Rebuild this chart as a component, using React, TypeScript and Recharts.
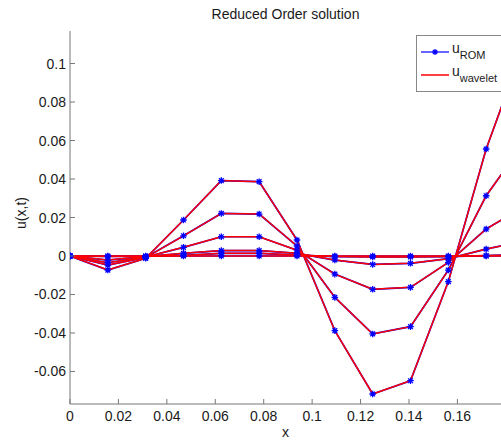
import React from 'react';
import { LineChart, Line, XAxis, YAxis, Legend } from 'recharts';

// grid points (dx = 1/64); the last one sits just past the visible range
const xGrid = [0, 0.015625, 0.03125, 0.046875, 0.0625, 0.078125, 0.09375, 0.109375, 0.125, 0.140625, 0.15625, 0.171875, 0.1875];

// solution snapshots, largest amplitude first
const snap1 = [0, -0.0073, -0.0012, 0.0187, 0.0392, 0.0386, 0.0083, -0.0388, -0.0717, -0.0648, -0.0133, 0.0556, 0.1096];
const snap2 = [0, -0.0047, -0.0008, 0.0105, 0.0221, 0.0218, 0.0052, -0.0215, -0.0405, -0.0367, -0.0073, 0.0313, 0.0589];
const snap3 = [0, -0.0035, -0.0005, 0.0045, 0.01, 0.01, 0.003, -0.0094, -0.0173, -0.0163, -0.0033, 0.014, 0.0257];
const snap4 = [0, -0.0021, -0.0003, 0.0014, 0.0028, 0.0028, 0.0014, -0.0021, -0.0044, -0.0038, -0.0014, 0.0036, 0.0078];
const snap5 = [0, -0.0002, -0.0001, 0.0003, 0.0014, 0.0014, 0.0005, -0.0003, -0.0005, -0.0005, -0.0003, 0.0002, 0.0008];
const snap6 = [0, 0, 0, 0, 0, 0, 0, 0, 0, 0, 0, 0, 0];

const xTicks = [0, 0.02, 0.04, 0.06, 0.08, 0.1, 0.12, 0.14, 0.16];
const yTicks = [-0.06, -0.04, -0.02, 0, 0.02, 0.04, 0.06, 0.08, 0.1];

const snaps = [snap1, snap2, snap3, snap4, snap5, snap6];
const rows = xGrid.map((x, i) => {
  const r: Record<string, number> = { x };
  snaps.forEach((s, k) => (r['s' + k] = s[i]));
  return r;
});

const AXIS = '#777';
const TEXT = '#1a1a1a';
const FONT = '"Liberation Sans", Arial, sans-serif';
const BLUE = '#0000ff';
const RED = '#ff0000';

const fmt = (v: number) => String(Number(v.toFixed(3)));

function starPath(cx: number, cy: number, r: number) {
  const d = r * 0.72;
  return `M${cx - r},${cy}H${cx + r}M${cx},${cy - r}V${cy + r}M${cx - d},${cy - d}L${cx + d},${cy + d}M${cx - d},${cy + d}L${cx + d},${cy - d}`;
}

function StarDot(props: any) {
  const { cx, cy } = props;
  if (cx == null || cy == null) return null;
  return <path key={props.key} d={starPath(cx, cy, 3.3)} stroke={BLUE} strokeWidth={1.3} fill="none" />;
}

function XTick({ x, y, payload }: any) {
  return (
    <g>
      <line x1={x} x2={x} y1={y} y2={y - 5} stroke={AXIS} />
      <text x={x} y={y + 17} textAnchor="middle" fontSize={14} fill={TEXT} fontFamily={FONT}>
        {fmt(payload.value)}
      </text>
    </g>
  );
}

function YTick({ x, y, payload }: any) {
  return (
    <g>
      <line x1={x} x2={x + 5} y1={y} y2={y} stroke={AXIS} />
      <text x={x - 4} y={y + 5} textAnchor="end" fontSize={14} fill={TEXT} fontFamily={FONT}>
        {fmt(payload.value)}
      </text>
    </g>
  );
}

function LegendBox() {
  return (
    <svg width={92} height={57} style={{ display: 'block' }}>
      <rect x={0.5} y={0.5} width={91} height={56} fill="#fff" stroke="#888" />
      <line x1={5} x2={33} y1={17} y2={17} stroke={BLUE} strokeWidth={1.2} />
      <path d={starPath(19, 17, 3)} stroke={BLUE} strokeWidth={1.2} fill="none" />
      <text x={36} y={18} fontSize={14} fill={TEXT} fontFamily={FONT}>
        u<tspan fontSize={11} dy={6}>ROM</tspan>
      </text>
      <line x1={5} x2={33} y1={40} y2={40} stroke={RED} strokeWidth={1.5} />
      <text x={36} y={41} fontSize={14} fill={TEXT} fontFamily={FONT}>
        u<tspan fontSize={11} dy={6}>wavelet</tspan>
      </text>
    </svg>
  );
}

export default function App() {
  return (
    <div style={{ position: 'absolute', left: 0, top: 0, width: 501, height: 442, overflow: 'hidden', background: '#fff', fontFamily: FONT }}>
      <div style={{ position: 'absolute', left: 70, top: 6, width: 431, textAlign: 'center', fontSize: 14, lineHeight: '16px', color: TEXT }}>
        Reduced Order solution
      </div>
      <LineChart width={501} height={442} data={rows} margin={{ top: 31, right: 0, bottom: 8, left: 10 }}>
        <XAxis
          dataKey="x"
          type="number"
          domain={[0, 0.178]}
          allowDataOverflow
          ticks={xTicks}
          interval={0}
          height={30}
          tickSize={0}
          tickMargin={0}
          tickLine={false}
          axisLine={{ stroke: AXIS }}
          tick={<XTick />}
          label={{
            content: ({ viewBox }: any) => (
              <text x={viewBox.x + viewBox.width / 2} y={viewBox.y + 33} textAnchor="middle" fontSize={14} fill={TEXT} fontFamily={FONT}>
                x
              </text>
            ),
          }}
        />
        <YAxis
          type="number"
          domain={[-0.0769, 0.1169]}
          allowDataOverflow
          ticks={yTicks}
          interval={0}
          width={60}
          tickSize={0}
          tickMargin={0}
          tickLine={false}
          axisLine={{ stroke: AXIS }}
          tick={<YTick />}
          label={{
            content: () => (
              <text x={22} y={213} transform="rotate(-90 22 213)" textAnchor="middle" dominantBaseline="middle" fontSize={14} fill={TEXT} fontFamily={FONT}>
                u(x,t)
              </text>
            ),
          }}
        />
        <Legend
          layout="horizontal"
          verticalAlign="middle"
          align="center"
          wrapperStyle={{ left: 416, top: 35, width: 92, height: 57 }}
          content={() => <LegendBox />}
        />
        {snaps.map((_, k) => (
          <Line
            key={'rom' + k}
            dataKey={'s' + k}
            stroke={BLUE}
            strokeWidth={1.7}
            dot={<StarDot />}
            isAnimationActive={false}
            legendType="none"
          />
        ))}
        {snaps.map((_, k) => (
          <Line
            key={'wav' + k}
            dataKey={'s' + k}
            stroke={RED}
            strokeWidth={1.5}
            dot={false}
            isAnimationActive={false}
            legendType="none"
          />
        ))}
      </LineChart>
    </div>
  );
}
